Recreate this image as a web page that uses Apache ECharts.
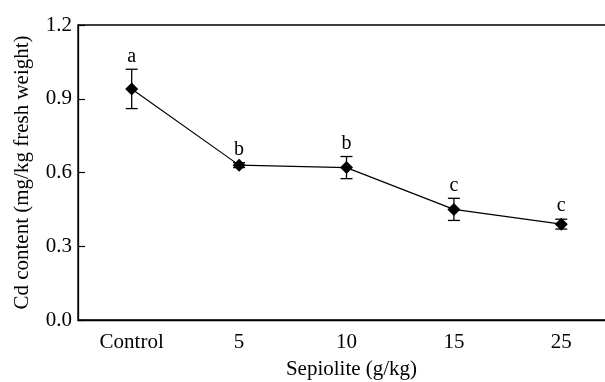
<!DOCTYPE html>
<html>
<head>
<meta charset="utf-8">
<script src="https://cdn.jsdelivr.net/npm/echarts@6/dist/echarts.min.js"></script>
<style>
  html, body { margin: 0; padding: 0; background: #fff; }
  #chart { width: 605px; height: 382px; }
</style>
</head>
<body>
<div id="chart"></div>
<script>
// Cd content vs sepiolite dose
const categories = ['Control', '5', '10', '15', '25'];
const cdMean = [0.94, 0.63, 0.62, 0.45, 0.39];
const cdErr = [0.08, 0.01, 0.045, 0.045, 0.02];
const sigLetters = ['a', 'b', 'b', 'c', 'c'];

const serif = '"Liberation Serif", "Times New Roman", serif';

const errData = categories.map((c, i) => [i, cdMean[i] - cdErr[i], cdMean[i] + cdErr[i]]);

const chart = echarts.init(document.getElementById('chart'));

chart.setOption({
  animation: false,
  backgroundColor: '#fff',
  grid: {
    left: 78,
    top: 25,
    width: 537,
    height: 295,
    outerBoundsMode: 'none',
    containLabel: false,
    show: true,
    borderColor: '#000',
    borderWidth: 1.3
  },
  xAxis: {
    type: 'category',
    data: categories,
    boundaryGap: true,
    name: 'Sepiolite (g/kg)',
    nameLocation: 'middle',
    nameGap: 39,
    nameTextStyle: { color: '#000', fontSize: 21, fontFamily: serif, padding: [0, 0, 0, 10] },
    axisLine: { lineStyle: { color: '#000', width: 1.3 } },
    axisTick: { inside: true, length: 7, lineStyle: { color: '#000', width: 1.2 } },
    axisLabel: { color: '#000', fontSize: 21, fontFamily: serif, margin: 12 },
    splitLine: { show: false }
  },
  yAxis: {
    type: 'value',
    min: 0,
    max: 1.2,
    interval: 0.3,
    name: 'Cd content (mg/kg fresh weight)',
    nameLocation: 'middle',
    nameGap: 45,
    nameTextStyle: { color: '#000', fontSize: 21, fontFamily: serif },
    axisLine: { show: true, lineStyle: { color: '#000', width: 1.3 } },
    axisTick: { show: true, inside: true, length: 7, lineStyle: { color: '#000', width: 1.2 } },
    axisLabel: {
      color: '#000', fontSize: 21, fontFamily: serif, margin: 6,
      formatter: v => v.toFixed(1)
    },
    splitLine: { show: false }
  },
  series: [
    {
      type: 'custom',
      z: 2,
      data: errData,
      renderItem: (params, api) => {
        const i = api.value(0);
        const lo = api.coord([i, api.value(1)]);
        const hi = api.coord([i, api.value(2)]);
        const cap = 6;
        const st = { stroke: '#000', lineWidth: 1.3 };
        return {
          type: 'group',
          children: [
            { type: 'line', shape: { x1: lo[0], y1: lo[1], x2: hi[0], y2: hi[1] }, style: st },
            { type: 'line', shape: { x1: hi[0] - cap, y1: hi[1], x2: hi[0] + cap, y2: hi[1] }, style: st },
            { type: 'line', shape: { x1: lo[0] - cap, y1: lo[1], x2: lo[0] + cap, y2: lo[1] }, style: st },
            {
              type: 'text',
              x: hi[0],
              y: hi[1] - 3,
              style: {
                text: sigLetters[i],
                fill: '#000',
                fontSize: 20,
                fontFamily: serif,
                align: 'center',
                verticalAlign: 'bottom'
              }
            }
          ]
        };
      }
    },
    {
      type: 'line',
      z: 3,
      data: cdMean,
      symbol: 'diamond',
      symbolSize: 13,
      itemStyle: { color: '#000' },
      lineStyle: { color: '#000', width: 1.2 }
    }
  ]
});
</script>
</body>
</html>
